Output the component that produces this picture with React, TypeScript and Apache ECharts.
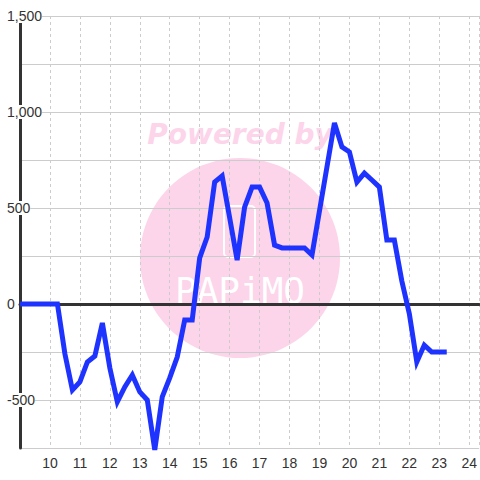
import React, { useEffect, useRef } from "react";
import * as echarts from "echarts";

const hours = [9, 10.25, 10.5, 10.75, 11, 11.25, 11.5, 11.75, 12, 12.25, 12.5, 12.75, 13, 13.25, 13.5, 13.75, 14, 14.25, 14.5, 14.75, 15, 15.25, 15.5, 15.75, 16, 16.25, 16.5, 16.75, 17, 17.25, 17.5, 17.75, 18.5, 18.75, 19.5, 19.75, 20, 20.25, 20.5, 20.75, 21, 21.25, 21.5, 21.75, 22, 22.25, 22.5, 22.75, 23.25];
const values = [0, 0, -260, -448, -406, -302, -271, -99, -333, -510, -432, -370, -458, -500, -760, -484, -385, -276, -83, -83, 240, 349, 635, 667, 450, 229, 505, 609, 609, 526, 307, 292, 292, 255, 943, 818, 792, 635, 682, 646, 609, 333, 333, 120, -50, -302, -214, -250, -250];
const xTickLabels = ["10", "11", "12", "13", "14", "15", "16", "17", "18", "19", "20", "21", "22", "23", "24"];
const yLabelValues = [-500, 0, 500, 1000, 1500];

const BG = "#ffffff";
const PINK = "#fcd5ea";

export default function App() {
  const ref = useRef<HTMLDivElement>(null);
  useEffect(() => {
    if (!ref.current) return;
    const chart = echarts.init(ref.current, null, { renderer: "svg" });
    chart.setOption({
      animation: false,
      backgroundColor: BG,
      grid: { left: 20, right: 0, top: 16, bottom: 32, containLabel: false },
      graphic: [
        { type: "circle", z: -10, shape: { cx: 240, cy: 258, r: 100 }, style: { fill: PINK } },
        {
          type: "text", z: -10, x: 240, y: 134,
          style: { text: "Powered by", align: "center", verticalAlign: "middle", fill: PINK, font: 'italic bold 28px "DejaVu Sans"' },
        },
        { type: "rect", z: -9, shape: { x: 224, y: 206, width: 31, height: 51, r: 4 }, style: { fill: "none", stroke: "#ffffff", lineWidth: 2 } },
        {
          type: "text", z: -9, x: 240, y: 290,
          style: { text: "PAPiMO", align: "center", verticalAlign: "middle", fill: "#ffffff", font: '36px "DejaVu Sans Mono"' },
        },
      ],
      xAxis: [
        {
          type: "value", min: 9, max: 24 + 1 / 3, interval: 1,
          axisLine: { show: false, onZero: false },
          axisTick: { show: false },
          splitLine: { show: true, lineStyle: { color: "#cccccc", type: [3, 3], width: 1 } },
          axisLabel: {
            color: "#333333", fontSize: 14, fontFamily: "Liberation Sans", margin: 8,
            showMinLabel: false, showMaxLabel: false,
            formatter: (v: number) => {
              const s = String(Math.round(v));
              return Math.abs(v - Math.round(v)) < 1e-6 && xTickLabels.includes(s) ? s : "";
            },
          },
        },
        {
          type: "value", min: 9, max: 24 + 1 / 3, position: "bottom",
          axisLine: { show: true, onZero: true, lineStyle: { color: "#333333", width: 3 } },
          axisTick: { show: false }, axisLabel: { show: false }, splitLine: { show: false },
        },
      ],
      yAxis: {
        type: "value", min: -750, max: 1500, interval: 250,
        axisLine: { show: true, lineStyle: { color: "#333333", width: 3 } },
        axisTick: { show: false },
        splitLine: { show: true, lineStyle: { color: "#cccccc", width: 1 } },
        axisLabel: {
          color: "#333333", fontSize: 14, fontFamily: "Liberation Sans",
          align: "left", margin: 13, backgroundColor: BG,
          formatter: (v: number) => (yLabelValues.includes(v) ? v.toLocaleString("en-US") : ""),
        },
      },
      series: [
        {
          type: "line", xAxisIndex: 0, z: 3,
          data: hours.map((h, i) => [h, values[i]]),
          showSymbol: false, symbol: "none", clip: false,
          lineStyle: { color: "#1f33ff", width: 5, join: "miter" },
        },
      ],
    });
    return () => chart.dispose();
  }, []);
  return <div ref={ref} style={{ width: 480, height: 480, position: "absolute", left: 0, top: 0 }} />;
}
